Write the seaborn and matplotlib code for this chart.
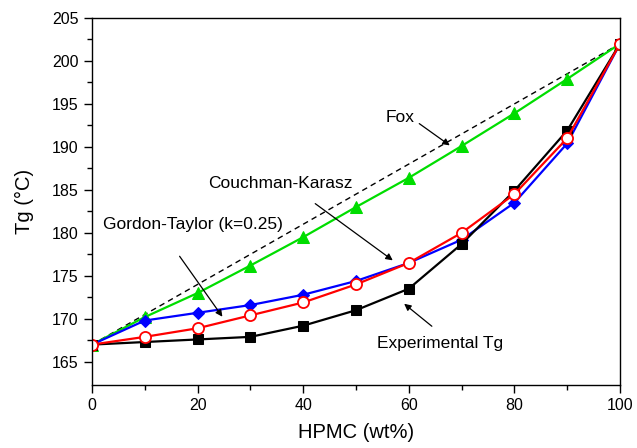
import matplotlib
matplotlib.use("Agg")
import matplotlib.pyplot as plt
import seaborn as sns
import numpy as np

sns.set_style("ticks")
plt.rcParams['font.family'] = ['Liberation Sans', 'DejaVu Sans']
plt.rcParams['text.color'] = 'black'
plt.rcParams['axes.labelcolor'] = 'black'
plt.rcParams['xtick.color'] = 'black'
plt.rcParams['ytick.color'] = 'black'

hpmc = [0, 10, 20, 30, 40, 50, 60, 70, 80, 90, 100]
experimental = [167.0, 167.3, 167.6, 167.9, 169.2, 171.0, 173.5, 178.7, 184.9, 191.9, 202.0]
gordon_taylor = [167.0, 167.9, 168.9, 170.4, 171.9, 174.0, 176.5, 180.0, 184.5, 191.0, 202.0]
couchman_karasz = [167.0, 169.8, 170.7, 171.6, 172.8, 174.4, 176.5, 179.2, 183.5, 190.4, 202.0]
fox = [167.0, 170.2, 173.0, 176.2, 179.5, 183.0, 186.4, 190.1, 193.9, 197.9, 202.0]
linear_x = [0, 100]
linear_y = [167.0, 202.0]

fig = plt.figure(figsize=(6.37, 4.48), dpi=100)
ax = fig.add_axes([0.1444, 0.1406, 0.8289, 0.8194])

sns.lineplot(x=linear_x, y=linear_y, ax=ax, color='black', linestyle=(0, (4, 3)), linewidth=1.0,
             errorbar=None, estimator=None)
sns.lineplot(x=hpmc, y=fox, ax=ax, color='#00dd00', marker='^', markersize=8,
             markeredgecolor='#00dd00', linewidth=1.6, errorbar=None, estimator=None)
sns.lineplot(x=hpmc, y=couchman_karasz, ax=ax, color='#0000ff', marker='D', markersize=6.5,
             markeredgecolor='#0000ff', linewidth=1.6, errorbar=None, estimator=None)
sns.lineplot(x=hpmc, y=experimental, ax=ax, color='black', marker='s', markersize=6.5,
             markeredgecolor='black', linewidth=1.6, errorbar=None, estimator=None)
sns.lineplot(x=hpmc, y=gordon_taylor, ax=ax, color='#ff0000', marker='o', markersize=8,
             markerfacecolor='white', markeredgecolor='#ff0000', markeredgewidth=1.3, linewidth=1.6,
             errorbar=None, estimator=None)

ax.set_xlim(0, 100)
ax.set_ylim(162.3, 205)
ax.set_xticks([0, 20, 40, 60, 80, 100])
ax.set_xticks([10, 30, 50, 70, 90], minor=True)
ax.set_yticks([165, 170, 175, 180, 185, 190, 195, 200, 205])
ax.set_yticks([167.5, 172.5, 177.5, 182.5, 187.5, 192.5, 197.5, 202.5], minor=True)
ax.tick_params(axis='both', which='major', direction='out', length=6, width=1, labelsize=11.5,
               color='black', labelcolor='black')
ax.tick_params(axis='both', which='minor', direction='out', length=3.5, width=1, color='black')
for s in ax.spines.values():
    s.set_linewidth(1.0)
    s.set_color('black')
ax.set_xlabel('HPMC (wt%)', fontsize=14.5, labelpad=7, color='black')
ax.set_ylabel('Tg (°C)', fontsize=14.5, labelpad=13, color='black')

def px(x, y):
    return (x / 637.0, 1.0 - y / 448.0)

arrow = dict(arrowstyle='-|>', color='black', lw=0.9, mutation_scale=10)
fs = 12.5
ax.annotate('', xy=px(452, 147), xycoords='figure fraction', xytext=px(417, 122),
            textcoords='figure fraction', arrowprops=arrow)
fig.text(px(400, 117)[0], px(400, 117)[1], 'Fox', fontsize=fs, ha='center', va='center', color='black')
ax.annotate('', xy=px(395, 262), xycoords='figure fraction', xytext=px(313, 202),
            textcoords='figure fraction', arrowprops=arrow)
fig.text(px(280, 184)[0], px(280, 184)[1], 'Couchman-Karasz', fontsize=fs, ha='center', va='center', color='black')
ax.annotate('', xy=px(224, 319), xycoords='figure fraction', xytext=px(178, 254),
            textcoords='figure fraction', arrowprops=arrow)
fig.text(px(193, 224)[0], px(193, 224)[1], 'Gordon-Taylor (k=0.25)', fontsize=fs, ha='center', va='center', color='black')
ax.annotate('', xy=px(402, 302), xycoords='figure fraction', xytext=px(434, 328),
            textcoords='figure fraction', arrowprops=arrow)
fig.text(px(440, 343)[0], px(440, 343)[1], 'Experimental Tg', fontsize=fs, ha='center', va='center', color='black')

fig.savefig('out.png', dpi=100)
